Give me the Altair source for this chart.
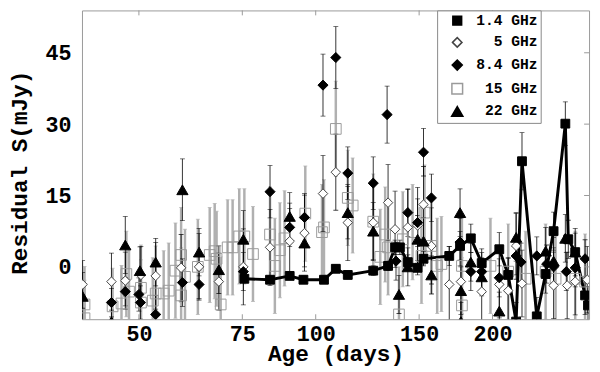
import altair as alt
import pandas as pd

# ---------------- data ----------------
series_names = ["1.4 GHz", "5 GHz", "8.4 GHz", "15 GHz", "22 GHz"]
x_ticks = [50, 75, 100, 150, 200]
y_ticks = [0, 15, 30, 45]

f14_age = [75.6, 83.6, 90.3, 95.3, 103.3, 108.2, 113.4, 125.3, 132.8, 136.5, 139.1, 143.5, 149.1, 152.6,
           168.8, 176.1, 183.7, 191.7, 205.4, 212.7, 219.4, 224.5, 237.9, 246.3, 254.1, 266.1, 269.2,
           276.6, 287.5, 290.8]
f14_res = [-2.5, -2.7, -1.9, -2.7, -2.7, -0.4, -1.7, -0.8, 0.2, 4.1, 4.1, 1.0, -0.2, 1.7,
           2.3, 4.4, 6.0, 0.8, 3.7, -1.7, -11.5, 22.2, -10.4, -1.5, 7.5, 30.1, 5.8,
           3.1, -6.0, -8.1]
f14_err = [0.8, 0.8, 0.8, 0.8, 0.8, 0.8, 0.8, 1.0, 1.0, 1.5, 1.5, 1.5, 1.5, 1.5,
           2.0, 3.0, 3.0, 3.0, 3.5, 3.5, 4.0, 6.0, 4.0, 4.0, 4.0, 4.6, 4.0,
           4.0, 4.0, 4.0]

f5_age = [40.1, 44.9, 47.4, 50.4, 53.4, 59.0, 63.3, 68.4, 75.3, 83.6, 90.3, 95.7, 102.9, 108.2,
          113.4, 125.3, 132.8, 136.5, 143.5, 149.1, 152.6, 157.4, 168.8, 176.7, 191.7, 205.4,
          212.7, 219.4, 224.5, 254.1, 268.0, 276.6, 290.0]
f5_res = [-3.7, -3.1, -2.9, -1.7, -1.9, -0.2, 0.0, -3.1, 0.0, 4.1, 5.4, 7.1, 15.4, 19.9,
          9.3, 9.3, 13.5, 7.9, 8.3, 8.7, 13.1, 4.4, -3.7, -3.1, -5.2, -3.7,
          -5.0, 4.4, -3.5, -3.9, -3.9, -3.1, -2.7]
f5_err = [5, 6, 6, 6, 7, 7, 7, 6, 8, 8, 8, 8, 8, 8,
          8, 8, 8, 8, 8, 8, 8, 8, 8, 8, 7, 7,
          7, 7, 7, 7, 7, 7, 7]

f84_age = [44.9, 47.4, 50.0, 50.3, 53.4, 59.3, 63.3, 75.3, 83.6, 90.3, 95.7, 102.9, 108.2, 113.4,
           125.3, 132.3, 137.0, 143.5, 149.1, 152.6, 157.4, 176.1, 183.7, 191.7, 205.4, 219.4,
           223.7, 237.9, 247.3, 254.1, 267.1, 276.6, 287.5]
f84_res = [-7.5, -5.2, -5.8, -7.5, -10.0, -3.3, -3.7, -1.0, 15.8, 8.3, 10.4, 38.2, 44.0, 19.7,
           17.6, 32.0, 1.2, 11.4, 9.3, 24.1, 14.5, 5.2, -1.0, -1.0, -2.3, 2.3,
           1.0, 2.3, 0.6, 0.0, -1.0, -0.2, 1.7]
f84_err = [3, 3, 3.5, 3.5, 4, 5, 3, 4, 5.5, 4, 5, 6.5, 6.5, 5.5,
           5.5, 6, 4, 5, 5, 5, 5, 5, 4, 4, 4, 4,
           4, 4, 4, 4, 4, 4, 4]

f15_age = [40.4, 40.4, 45.1, 46.7, 47.6, 48.1, 50.4, 50.4, 52.8, 53.4, 55.1, 56.2, 57.7, 59.0,
           59.0, 59.9, 63.0, 66.0, 67.3, 67.8, 68.9, 70.8, 72.2, 74.1, 75.6, 78.2, 83.6, 85.2,
           86.9, 88.5, 96.0, 102.5, 103.3, 108.2, 113.4, 115.6, 125.3, 128.8, 131.3, 132.8,
           138.6, 140.7, 146.2, 151.4, 153.2, 157.4, 161.0, 163.7, 177.4, 177.4, 198.4, 212.7,
           227.7, 246.3, 256.1, 276.6, 287.5]
f15_res = [-7.9, -10.8, -8.3, -7.7, -1.5, -5.2, -4.4, -7.5, -7.1, -5.6, -5.6, -5.0, -0.8, 2.5,
           -6.0, -2.1, 0.0, 2.5, 3.3, 1.7, -7.9, 4.1, 4.1, 6.4, 6.4, 2.7, 6.8, 0.2,
           3.5, 6.0, 11.2, 7.3, 8.3, 29.0, 14.5, 12.9, 9.5, 2.1, 6.8, 4.1,
           -10.0, 5.8, 7.3, 2.3, 11.4, 4.4, 0.2, 0.6, -8.1, 0.2, 0.2, -1.0,
           -2.5, -1.0, -2.5, -2.5, -3.1]
f15_err = [8, 8, 8, 8, 9, 9, 9, 9, 9, 10, 9, 10, 10, 10,
           10, 10, 10, 10, 10, 10, 10, 10, 10, 10, 10, 10, 10, 10,
           10, 10, 10, 10, 10, 10, 10, 10, 10, 10, 10, 10,
           10, 10, 10, 10, 10, 10, 10, 10, 10, 10, 10, 10,
           10, 10, 10, 10, 10]

f22_age = [40.1, 44.9, 47.4, 50.2, 53.4, 59.3, 63.3, 68.4, 75.3, 90.3, 95.7, 113.4, 125.3, 138.6,
           143.5, 149.1, 152.6, 157.4, 176.1, 176.7, 176.7, 183.7, 191.7, 205.4, 219.4, 246.3,
           254.1, 266.1, 276.6]
f22_res = [-6.2, -11.5, 4.6, -0.8, 1.0, 16.2, 3.1, -0.6, 5.8, 10.6, 5.0, 11.4, 7.5, -5.8,
           0.0, 5.8, 5.4, -1.7, 11.4, -5.0, -11.5, 1.0, -2.1, -9.3, 6.2, 3.3,
           1.2, 6.0, 3.1]
f22_err = [5, 4, 6, 5, 5, 6.5, 5, 5, 6, 5, 5, 5.5, 6, 4,
           4, 5, 5, 4, 5, 5, 4, 4, 4, 4, 5, 5,
           5, 5, 5]

# ---------------- tables ----------------
def table(name, ages, res, errs):
    return pd.DataFrame({"series": name, "age": ages, "res": res, "err": errs})

df = pd.concat([
    table(series_names[3], f15_age, f15_res, f15_err),
    table(series_names[1], f5_age, f5_res, f5_err),
    table(series_names[0], f14_age, f14_res, f14_err),
    table(series_names[2], f84_age, f84_res, f84_err),
    table(series_names[4], f22_age, f22_res, f22_err),
], ignore_index=True)
df["lo"] = df["res"] - df["err"]
df["hi"] = df["res"] + df["err"]
df["ord"] = range(len(df))

grey_df = df[df["series"] == series_names[3]]
black_df = df[df["series"] != series_names[3]]
line_df = df[df["series"] == series_names[0]]

W, H = 514, 313
FONT = "Liberation Mono"

xscale = alt.Scale(type="log", domain=[40, 292], nice=False)
yscale = alt.Scale(domain=[-11, 53.9], nice=False, zero=False)

xaxis = alt.Axis(values=x_ticks, title="Age (days)", labelPadding=5,
                 titleBaseline="alphabetic", titleY=42)
yaxis = alt.Axis(values=y_ticks, title="Residual S(mJy)", labelPadding=11,
                 titleAngle=270, titleAlign="center", titleBaseline="middle", titleX=-63, titleY=164)


def X(field):
    return alt.X(field, type="quantitative", scale=xscale, axis=xaxis)


def Y(field):
    return alt.Y(field, type="quantitative", scale=yscale, axis=yaxis)


grey_bars = alt.Chart(grey_df).mark_rule(color="#b0b0b0", strokeWidth=2.5, clip=True).encode(
    x=X("age"), y=Y("lo"), y2="hi")
grey_cap_lo = alt.Chart(grey_df).mark_tick(color="#b0b0b0", thickness=1, size=4, orient="horizontal",
                                           clip=True).encode(x=X("age"), y=Y("lo"))
grey_cap_hi = alt.Chart(grey_df).mark_tick(color="#b0b0b0", thickness=1, size=4, orient="horizontal",
                                           clip=True).encode(x=X("age"), y=Y("hi"))

black_bars = alt.Chart(black_df).mark_rule(color="black", strokeWidth=0.8, clip=True).encode(
    x=X("age"), y=Y("lo"), y2="hi")
black_cap_lo = alt.Chart(black_df).mark_tick(color="black", thickness=0.8, size=5, orient="horizontal",
                                             clip=True).encode(x=X("age"), y=Y("lo"))
black_cap_hi = alt.Chart(black_df).mark_tick(color="black", thickness=0.8, size=5, orient="horizontal",
                                             clip=True).encode(x=X("age"), y=Y("hi"))

line = alt.Chart(line_df).mark_line(color="black", strokeWidth=3, clip=True).encode(
    x=X("age"), y=Y("res"), order="age:Q")

legend = alt.Legend(title=None, orient="none", legendX=360, legendY=0,
                    strokeColor="#888", fillColor="white", padding=3, rowPadding=6,
                    symbolOffset=10, labelOffset=74, labelAlign="right")

points = alt.Chart(df).mark_point(filled=True, opacity=1, strokeWidth=1, clip=True).encode(
    x=X("age"), y=Y("res"),
    shape=alt.Shape("series:N", scale=alt.Scale(domain=series_names,
                    range=["square", "diamond", "diamond", "square", "triangle-up"]), legend=legend),
    fill=alt.Fill("series:N", scale=alt.Scale(domain=series_names,
                  range=["black", "white", "black", "transparent", "black"]), legend=legend),
    stroke=alt.Stroke("series:N", scale=alt.Scale(domain=series_names,
                      range=["black", "#444444", "black", "#9a9a9a", "black"]), legend=legend),
    size=alt.Size("series:N", scale=alt.Scale(domain=series_names,
                  range=[80, 130, 165, 75, 110]), legend=legend),
    order="ord:Q",
)

xt_df = pd.DataFrame({"age": x_ticks})
yt_df = pd.DataFrame({"res": y_ticks})
top_ticks = alt.Chart(xt_df).mark_rule(color="#999999", strokeWidth=1).encode(
    x=X("age"), y=alt.value(0), y2=alt.value(5))
bot_ticks = alt.Chart(xt_df).mark_rule(color="#999999", strokeWidth=1).encode(
    x=X("age"), y=alt.value(H - 5), y2=alt.value(H))
right_ticks = alt.Chart(yt_df).mark_rule(color="#999999", strokeWidth=1).encode(
    y=Y("res"), x=alt.value(W - 5), x2=alt.value(W))

chart = alt.layer(
    grey_bars, grey_cap_lo, grey_cap_hi,
    black_bars, black_cap_lo, black_cap_hi,
    top_ticks, bot_ticks, right_ticks,
    line, points,
).properties(
    width=W, height=H,
    autosize=alt.AutoSizeParams(type="none"),
    padding={"left": 75, "top": 0, "right": 3, "bottom": 47},
    background="white",
).configure_view(
    stroke="#999999", strokeWidth=1
).configure_axis(
    grid=False, ticks=False, domain=False, labelFlush=False,
    labelFont=FONT, labelFontWeight="bold", labelFontSize=22, labelColor="black",
    titleFont=FONT, titleFontWeight="bold", titleFontSize=23, titleColor="black",
).configure_legend(
    labelFont=FONT, labelFontWeight="bold", labelFontSize=14.8, labelColor="black",
)

chart.save("out.html", embed_options={"renderer": "svg", "actions": False})
